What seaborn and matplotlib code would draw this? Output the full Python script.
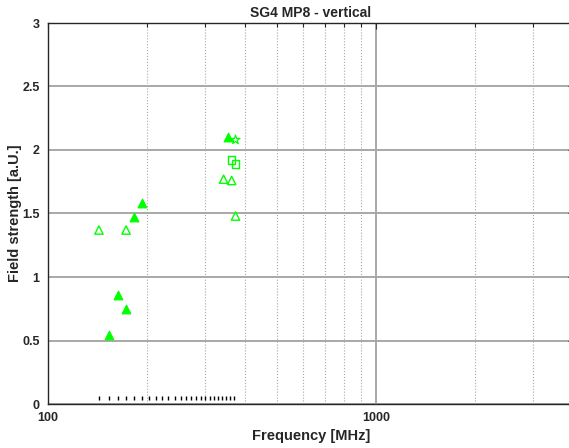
import matplotlib
matplotlib.use("Agg")
import matplotlib.pyplot as plt
import seaborn as sns
import pandas as pd
from matplotlib.ticker import FixedLocator, NullFormatter, FixedFormatter

sns.set_style("white")
plt.rcParams['font.family'] = ['Liberation Sans', 'DejaVu Sans']

# Data
filled_tri_freq = [153, 163, 173, 183, 193, 353]
filled_tri_val = [0.54, 0.86, 0.75, 1.47, 1.58, 2.10]
open_tri_freq = [143, 173, 343, 363, 373]
open_tri_val = [1.37, 1.37, 1.77, 1.76, 1.48]
square_freq = [363, 373]
square_val = [1.92, 1.89]
star_freq = [373]
star_val = [2.08]
marker_freq = [143, 153, 163, 173, 183, 193, 203, 213, 222, 232, 244, 254, 263,
               273, 283, 293, 302, 312, 321, 330, 340, 350, 360, 370]
marker_val = [0.05] * len(marker_freq)

ytick_vals = [0, 0.5, 1, 1.5, 2, 2.5, 3]
ytick_labels = ["0", "0.5", "1", "1.5", "2", "2.5", "3"]
xmajor = [100, 1000]
xmajor_labels = ["100", "1000"]
xminor = [200, 300, 400, 500, 600, 700, 800, 900, 2000, 3000]

green = "#00FF00"

fig = plt.figure(figsize=(5.69, 4.48), dpi=100)
ax = fig.add_axes([48/569, 44/448, 525.5/569, 381/448])
ax.set_xscale("log")

df_ft = pd.DataFrame({"f": filled_tri_freq, "v": filled_tri_val})
df_ot = pd.DataFrame({"f": open_tri_freq, "v": open_tri_val})
df_sq = pd.DataFrame({"f": square_freq, "v": square_val})
df_st = pd.DataFrame({"f": star_freq, "v": star_val})
df_mk = pd.DataFrame({"f": marker_freq, "v": marker_val})

sns.scatterplot(data=df_ft, x="f", y="v", ax=ax, marker="^", s=40,
                color=green, edgecolor=green, linewidth=0.8, zorder=5)
sns.scatterplot(data=df_ot, x="f", y="v", ax=ax, marker="^", s=36,
                facecolor="none", edgecolor=green, linewidth=1.0, zorder=5)
sns.scatterplot(data=df_sq, x="f", y="v", ax=ax, marker="s", s=28,
                facecolor="none", edgecolor=green, linewidth=1.0, zorder=5)
sns.scatterplot(data=df_st, x="f", y="v", ax=ax, marker="*", s=45,
                facecolor="none", edgecolor=green, linewidth=0.9, zorder=5)
sns.scatterplot(data=df_mk, x="f", y="v", ax=ax, marker="|", s=10,
                color="black", linewidth=1.0, zorder=5)

ax.set_xlim(100, 4000)
ax.set_ylim(0, 3)

ax.xaxis.set_major_locator(FixedLocator(xmajor))
ax.xaxis.set_major_formatter(FixedFormatter(xmajor_labels))
ax.xaxis.set_minor_locator(FixedLocator(xminor))
ax.xaxis.set_minor_formatter(NullFormatter())
ax.set_yticks(ytick_vals)
ax.set_yticklabels(ytick_labels)

ax.grid(True, which="major", axis="both", color="#a8a8a8", linewidth=1.4, linestyle="-")
ax.grid(True, which="minor", axis="x", color="#a8a8a8", linewidth=0.8, linestyle=":")
ax.set_axisbelow(True)

ax.tick_params(axis="both", which="both", direction="in", top=True, right=True,
               labelsize=9, colors="#262626", width=0.8)
ax.tick_params(axis="both", which="major", length=4, pad=6)
ax.tick_params(axis="x", which="minor", length=3)
for lab in ax.get_xticklabels() + ax.get_yticklabels():
    lab.set_fontweight("bold")

for sp in ax.spines.values():
    sp.set_color("#262626")
    sp.set_linewidth(1.0)

fig.text((48 + 525.5 / 2) / 569, 1 - 13 / 448, "SG4 MP8 - vertical", fontsize=10,
         fontweight="bold", color="#262626", ha="center", va="center")
ax.set_xlabel("Frequency [MHz]", fontsize=10.5, fontweight="bold", color="#262626", labelpad=4)
ax.set_ylabel("Field strength [a.U.]", fontsize=10.5, fontweight="bold", color="#262626", labelpad=4)
ax.yaxis.set_label_coords(-(48 - 15) / 525.5, 0.5)
ax.xaxis.set_label_coords(0.5, -(436 - 404) / 381)
ax.xaxis.label.set_va("center")
ax.yaxis.label.set_va("center")

fig.savefig("out.png", dpi=100)
